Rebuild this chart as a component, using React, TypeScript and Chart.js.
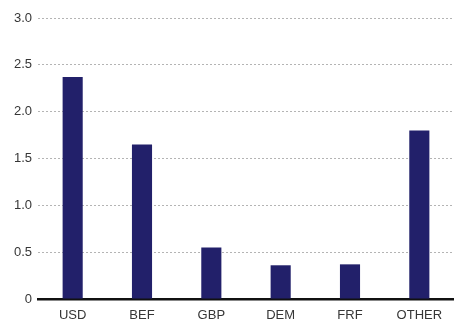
import React, { useEffect, useRef } from "react";
import { Chart, registerables } from "chart.js";

Chart.register(...registerables);

const currencies = ["USD", "BEF", "GBP", "DEM", "FRF", "OTHER"];
const amounts = [2.37, 1.65, 0.55, 0.36, 0.37, 1.8];
const yTicks = [0, 0.5, 1.0, 1.5, 2.0, 2.5, 3.0];

const BAR_COLOR = "#22206a";
const TEXT_COLOR = "#363636";
const FONT = "'Liberation Sans', Arial, sans-serif";

export default function App() {
  const canvasRef = useRef<HTMLCanvasElement | null>(null);

  useEffect(() => {
    const canvas = canvasRef.current;
    if (!canvas) return;
    const chart = new Chart(canvas, {
      type: "bar",
      data: {
        labels: currencies,
        datasets: [
          {
            data: amounts,
            backgroundColor: BAR_COLOR,
            borderWidth: 0,
            barPercentage: 0.29,
            categoryPercentage: 1,
          },
        ],
      },
      options: {
        animation: false,
        responsive: false,
        maintainAspectRatio: false,
        layout: { padding: { top: 18, right: 0, bottom: 0, left: 0 } },
        plugins: {
          legend: { display: false },
          tooltip: { enabled: false },
        },
        scales: {
          x: {
            grid: { display: false, drawTicks: false },
            border: { display: true, color: "#111111", width: 2.5 },
            ticks: {
              color: TEXT_COLOR,
              font: { family: FONT, size: 13 },
              padding: 9,
              maxRotation: 0,
              autoSkip: false,
            },
            afterFit: (scale: any) => {
              scale.height = 22;
            },
          },
          y: {
            min: 0,
            max: 3,
            afterBuildTicks: (scale: any) => {
              scale.ticks = yTicks.map((v) => ({ value: v }));
            },
            grid: {
              color: "#b4b4b4",
              lineWidth: 1,
              drawTicks: false,
            },
            border: { display: false, dash: [2, 2] },
            ticks: {
              color: TEXT_COLOR,
              font: { family: FONT, size: 13 },
              padding: 6,
              callback: (v: any) => (Number(v) === 0 ? "0" : Number(v).toFixed(1)),
            },
            afterFit: (scale: any) => {
              scale.width = 38;
            },
          },
        },
      },
    });
    return () => chart.destroy();
  }, []);

  return (
    <div style={{ position: "fixed", left: 0, top: 0, width: 454, height: 321, background: "#ffffff" }}>
      <canvas ref={canvasRef} width={454} height={321} style={{ display: "block" }} />
    </div>
  );
}
